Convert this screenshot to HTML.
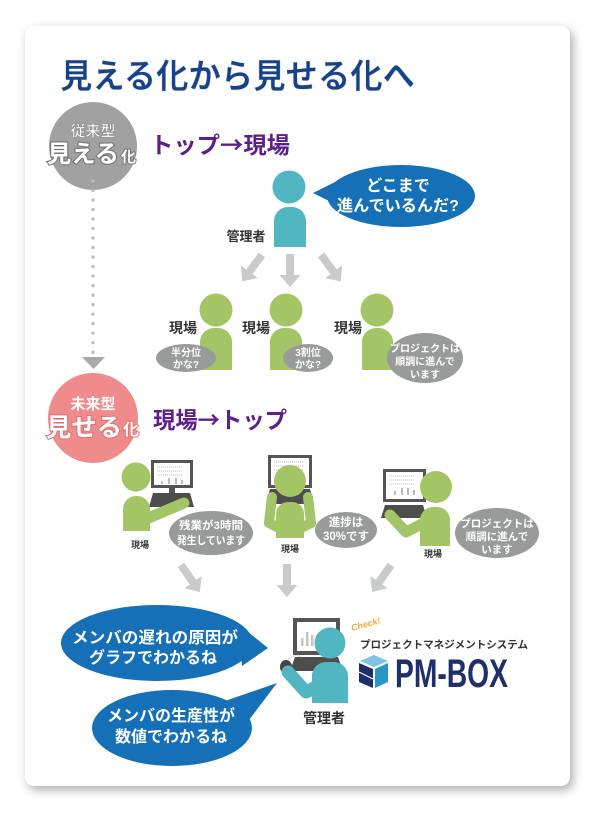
<!DOCTYPE html>
<html><head><meta charset="utf-8">
<style>
html,body{margin:0;padding:0;background:#fff;width:600px;height:814px;overflow:hidden;}
.card{position:absolute;left:25px;top:26px;width:545px;height:760px;background:#fff;border-radius:9px;box-shadow:3px 4px 10px rgba(0,0,0,0.33);}
svg{position:absolute;left:0;top:0;}
text{font-family:"Liberation Sans","Noto Sans CJK JP",sans-serif;font-weight:700;}
.cjk{font-family:"Noto Sans CJK JP",sans-serif;}
</style></head><body>
<div class="card"></div>
<svg width="600" height="814" viewBox="0 0 600 814">
<defs>
  <polygon id="arr" points="-4,0 4,0 4,21 10.5,21 0,33 -10.5,21 -4,21" fill="#c9caca"/>
</defs>

<!-- Title -->
<text x="60" y="88" font-size="34" fill="#17428a" textLength="355" lengthAdjust="spacingAndGlyphs" stroke="#dfe6f0" stroke-width="0.5">見える化から見せる化へ</text>

<!-- Gray circle -->
<circle cx="93" cy="146" r="44" fill="#a1a1a1"/>
<text x="93" y="136" font-size="15" fill="#fff" text-anchor="middle" stroke="#8a8a8a" stroke-width="0.6">従来型</text>
<text x="47" y="162" font-size="24" fill="#fff" stroke="#777" stroke-width="2.2" paint-order="stroke" textLength="72" lengthAdjust="spacingAndGlyphs">見える</text>
<text x="121" y="162" font-size="15" fill="#fff" stroke="#777" stroke-width="2" paint-order="stroke">化</text>

<!-- dotted line -->
<line x1="93" y1="181" x2="93" y2="353" stroke="#bdbdbd" stroke-width="3.4" stroke-linecap="round" stroke-dasharray="0.01 9.5"/>
<polygon points="82,357 105,357 93.5,369" fill="#a9a9a9"/>

<!-- Pink circle -->
<circle cx="93" cy="418" r="45" fill="#ef8b8b"/>
<text x="93" y="409" font-size="15" fill="#fff" text-anchor="middle">未来型</text>
<text x="46" y="436" font-size="25" fill="#fff" stroke="#e07070" stroke-width="2" paint-order="stroke" textLength="76" lengthAdjust="spacingAndGlyphs">見せる</text>
<text x="123" y="435" font-size="16" fill="#fff" stroke="#e07070" stroke-width="2" paint-order="stroke">化</text>

<!-- Purple headings -->
<text class="cjk" x="150" y="153" font-size="23" fill="#5e1f8a" textLength="140" lengthAdjust="spacingAndGlyphs">トップ→現場</text>
<text class="cjk" x="153" y="428" font-size="23" fill="#5e1f8a" textLength="134" lengthAdjust="spacingAndGlyphs">現場→トップ</text>

<!-- Top manager -->
<circle cx="289" cy="187" r="16.5" fill="#51b5c2"/>
<path d="M274,247 V221 a14,14 0 0 1 14,-14 h4 a14,14 0 0 1 14,14 V247 Z" fill="#51b5c2"/>
<text x="246" y="241" font-size="13" fill="#333" text-anchor="middle">管理者</text>

<!-- Top blue bubble -->
<ellipse cx="401" cy="196" rx="74" ry="31" fill="#1670b8"/>
<polygon points="313,193 337,181 339,206" fill="#1670b8"/>
<text x="398" y="191" font-size="16" fill="#fff" text-anchor="middle">どこまで</text>
<text x="398" y="211" font-size="16" fill="#fff" text-anchor="middle" textLength="122" lengthAdjust="spacingAndGlyphs">進んでいるんだ?</text>

<!-- Top arrows -->
<use href="#arr" transform="translate(262,255) rotate(37)"/>
<use href="#arr" transform="translate(290,254)"/>
<use href="#arr" transform="translate(321,255) rotate(-37)"/>

<!-- Green top figures -->
<g fill="#a3c565">
  <circle cx="216" cy="310" r="16.5"/>
  <path d="M200,370 V342 a14,14 0 0 1 14,-14 h4 a14,14 0 0 1 14,14 V370 Z"/>
  <circle cx="286" cy="310" r="16.5"/>
  <path d="M270,370 V342 a14,14 0 0 1 14,-14 h4 a14,14 0 0 1 14,14 V370 Z"/>
  <circle cx="377" cy="310" r="16.5"/>
  <path d="M362,370 V342 a14,14 0 0 1 14,-14 h3 a14,14 0 0 1 14,14 V370 Z"/>
</g>
<text x="183" y="333" font-size="14" fill="#333" text-anchor="middle">現場</text>
<text x="256" y="333" font-size="14" fill="#333" text-anchor="middle">現場</text>
<text x="348" y="333" font-size="14" fill="#333" text-anchor="middle">現場</text>

<!-- top gray bubbles -->
<ellipse cx="186" cy="358" rx="30" ry="14" fill="#999a9a"/>
<text x="186" y="356" font-size="10" fill="#fff" text-anchor="middle">半分位</text>
<text x="186" y="368" font-size="10" fill="#fff" text-anchor="middle">かな?</text>
<ellipse cx="308" cy="358" rx="25" ry="14" fill="#999a9a"/>
<text x="308" y="356" font-size="10" fill="#fff" text-anchor="middle">3割位</text>
<text x="308" y="368" font-size="10" fill="#fff" text-anchor="middle">かな?</text>
<ellipse cx="425" cy="358" rx="38" ry="25" fill="#999a9a"/>
<text x="425" y="352" font-size="10" fill="#fff" text-anchor="middle">プロジェクトは</text>
<text x="425" y="365" font-size="10" fill="#fff" text-anchor="middle">順調に進んで</text>
<text x="425" y="378" font-size="10" fill="#fff" text-anchor="middle">います</text>

<!-- ===== Lower workers ===== -->
<!-- Left worker -->
<rect x="151" y="460" width="42" height="28" fill="#555"/>
<rect x="154" y="463" width="36" height="22" fill="#fff"/>
<g stroke="#aaa" stroke-width="0.7" stroke-dasharray="1.2 0.8">
  <line x1="157" y1="467" x2="183" y2="467"/>
  <line x1="157" y1="471" x2="183" y2="471"/>
  <line x1="157" y1="475" x2="183" y2="475"/>
</g>
<g fill="#bbb"><rect x="161" y="481" width="2" height="3"/><rect x="168" y="478" width="2" height="6"/><rect x="175" y="478" width="2" height="6"/><rect x="181" y="480" width="2" height="4"/></g>
<rect x="169" y="488" width="6" height="5" fill="#555"/>
<polygon points="153,493 190,493 194,507 149,507" fill="#4d4d4d"/>
<g fill="#a3c565">
  <circle cx="136" cy="477" r="14.5"/>
  <path d="M123,531 V509 a13,13 0 0 1 13,-13 h1 a13,13 0 0 1 13,13 V531 Z"/>
</g>
<polyline points="146,519 184,503" fill="none" stroke="#a3c565" stroke-width="11" stroke-linecap="round"/>
<text x="140" y="548" font-size="9" fill="#333" text-anchor="middle">現場</text>
<ellipse cx="211" cy="533" rx="42" ry="22" fill="#999a9a"/>
<text x="211" y="529" font-size="11" fill="#fff" text-anchor="middle" textLength="64" lengthAdjust="spacingAndGlyphs">残業が3時間</text>
<text x="211" y="544" font-size="11" fill="#fff" text-anchor="middle" textLength="68" lengthAdjust="spacingAndGlyphs">発生しています</text>

<!-- Middle worker -->
<rect x="268" y="455" width="44" height="33" fill="#555"/>
<rect x="271" y="458" width="38" height="27" fill="#fff"/>
<g stroke="#aaa" stroke-width="0.7" stroke-dasharray="1.2 0.8">
  <line x1="274" y1="462" x2="304" y2="462"/>
  <line x1="274" y1="466" x2="304" y2="466"/>
  <line x1="274" y1="470" x2="304" y2="470"/>
</g>
<polygon points="270,489 310,489 314,504 266,504" fill="#4d4d4d"/>
<g fill="#a3c565">
  <path d="M276,538 V514 a12,12 0 0 1 12,-12 h4 a12,12 0 0 1 12,12 V538 Z"/>
</g>
<polyline points="272,497 269,523 281,529" fill="none" stroke="#a3c565" stroke-width="10" stroke-linecap="round" stroke-linejoin="round"/>
<polyline points="308,497 311,523 299,529" fill="none" stroke="#a3c565" stroke-width="10" stroke-linecap="round" stroke-linejoin="round"/>
<circle cx="290" cy="481" r="16" fill="#a3c565"/>
<text x="290" y="552" font-size="9" fill="#333" text-anchor="middle">現場</text>
<ellipse cx="346" cy="530" rx="31" ry="18" fill="#999a9a"/>
<text x="346" y="526" font-size="11.5" fill="#fff" text-anchor="middle">進捗は</text>
<text x="346" y="540" font-size="11.5" fill="#fff" text-anchor="middle">30%です</text>

<!-- Right worker -->
<rect x="383" y="469" width="43" height="33" fill="#555"/>
<rect x="386" y="472" width="37" height="27" fill="#fff"/>
<g stroke="#aaa" stroke-width="0.7" stroke-dasharray="1.2 0.8">
  <line x1="389" y1="476" x2="414" y2="476"/>
  <line x1="389" y1="480" x2="414" y2="480"/>
  <line x1="389" y1="484" x2="414" y2="484"/>
</g>
<g fill="#bbb"><rect x="394" y="491" width="2" height="4"/><rect x="401" y="488" width="2" height="7"/><rect x="407" y="488" width="2" height="7"/><rect x="413" y="490" width="2" height="5"/></g>
<polygon points="385,505 423,505 427,518 381,518" fill="#4d4d4d"/>
<g fill="#a3c565">
  <circle cx="436" cy="487" r="16"/>
  <path d="M420,546 V520 a13,13 0 0 1 13,-13 h4 a13,13 0 0 1 13,13 V546 Z"/>
</g>
<polyline points="390,515 406,532 424,523" fill="none" stroke="#a3c565" stroke-width="11" stroke-linecap="round" stroke-linejoin="round"/>
<text x="433" y="557" font-size="9" fill="#333" text-anchor="middle">現場</text>
<ellipse cx="497" cy="533" rx="42" ry="25" fill="#999a9a"/>
<text x="497" y="527" font-size="10.5" fill="#fff" text-anchor="middle">プロジェクトは</text>
<text x="497" y="540" font-size="10.5" fill="#fff" text-anchor="middle">順調に進んで</text>
<text x="497" y="553" font-size="10.5" fill="#fff" text-anchor="middle">います</text>

<!-- Lower arrows -->
<use href="#arr" transform="translate(181,565) rotate(-35)"/>
<use href="#arr" transform="translate(287,564)"/>
<use href="#arr" transform="translate(391,565) rotate(35)"/>

<!-- Bottom blue bubbles -->
<ellipse cx="157" cy="643" rx="96" ry="38" fill="#1670b8"/>
<polygon points="268,648 238,624 242,666" fill="#1670b8"/>
<text x="155" y="643" font-size="16" fill="#fff" text-anchor="middle" textLength="166" lengthAdjust="spacingAndGlyphs">メンバの遅れの原因が</text>
<text x="153" y="663" font-size="16" fill="#fff" text-anchor="middle">グラフでわかるね</text>

<ellipse cx="172" cy="728" rx="80" ry="38" fill="#1670b8"/>
<polygon points="277,683 222,702 246,724" fill="#1670b8"/>
<text x="171" y="721" font-size="16" fill="#fff" text-anchor="middle">メンバの生産性が</text>
<text x="171" y="742" font-size="16" fill="#fff" text-anchor="middle">数値でわかるね</text>

<!-- Bottom manager -->
<rect x="293" y="618" width="47" height="37" fill="#555"/>
<rect x="297" y="622" width="39" height="29" fill="#fff"/>
<g fill="#c4c4c4"><rect x="301" y="638" width="2.5" height="8"/><rect x="306" y="632" width="2.5" height="14"/><rect x="311" y="635" width="2.5" height="11"/></g>
<polygon points="295,657 338,657 343,671 290,671" fill="#4d4d4d"/>
<path d="M287,662 C289,656 296,654 302,657" fill="none" stroke="#ddd" stroke-width="1"/>
<ellipse cx="286" cy="667" rx="6" ry="7" fill="#444"/>
<circle cx="330" cy="643" r="15.5" fill="#51b5c2"/>
<path d="M312,703 V676 a14,14 0 0 1 14,-14 h8 a14,14 0 0 1 14,14 V703 Z" fill="#51b5c2"/>
<polyline points="288,672 306,692 318,686" fill="none" stroke="#51b5c2" stroke-width="13" stroke-linecap="round" stroke-linejoin="round"/>
<text x="324" y="723" font-size="14" fill="#333" text-anchor="middle">管理者</text>

<!-- Check! & PM-BOX -->
<text x="352" y="631" font-size="9" fill="#f2a93b" font-style="italic" font-weight="400" transform="rotate(-15 352 631)">Check!</text>
<text x="360" y="648" font-size="10.5" fill="#333" font-weight="400" textLength="168" lengthAdjust="spacingAndGlyphs">プロジェクトマネジメントシステム</text>
<polygon points="374,655 388,661 374,667 360,661" fill="#7ec3e3"/>
<polygon points="375,669 388,663 388,682 375,688" fill="#2997c6"/>
<polygon points="359,663 373,669 373,688 359,682" fill="#1d2c6b"/>
<line x1="359" y1="672" x2="373" y2="679" stroke="#fff" stroke-width="1.2"/>
<text x="395" y="687" font-size="40" fill="#1f2f6e" textLength="113" lengthAdjust="spacingAndGlyphs" font-family="Liberation Sans, sans-serif">PM-BOX</text>
</svg>
</body></html>
